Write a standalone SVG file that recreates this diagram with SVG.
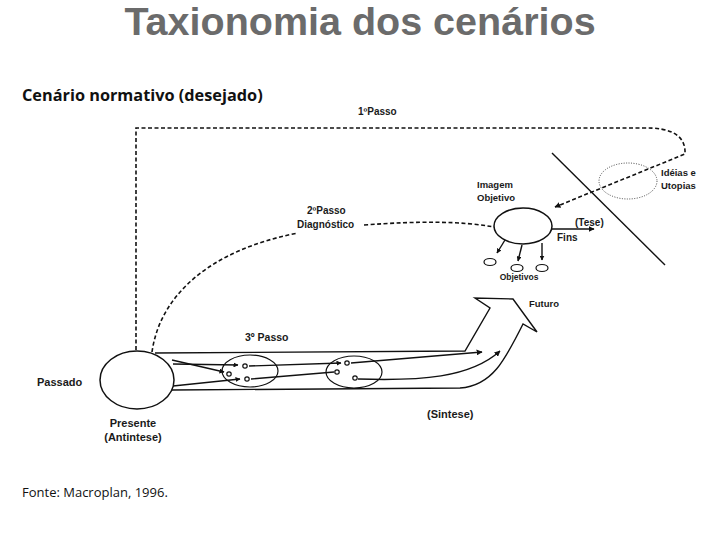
<svg xmlns="http://www.w3.org/2000/svg" width="720" height="540" viewBox="0 0 720 540">
<defs>
<marker id="ah" viewBox="0 0 10 10" refX="9" refY="5" markerWidth="6" markerHeight="6" orient="auto" markerUnits="userSpaceOnUse"><path d="M0,0 L10,5 L0,10 z" fill="#111"/></marker>
<marker id="ahs" viewBox="0 0 10 10" refX="9" refY="5" markerWidth="5" markerHeight="5" orient="auto" markerUnits="userSpaceOnUse"><path d="M0,0 L10,5 L0,10 z" fill="#111"/></marker>
</defs>
<style>
.t{font-family:"Liberation Sans",Arial,sans-serif;fill:#1a1a1a;font-weight:bold}
.ln{fill:none;stroke:#111;stroke-width:1.4}
.dash{fill:none;stroke:#111;stroke-width:1.6;stroke-dasharray:4 2.5}
.node{fill:#fff;stroke:#111;stroke-width:1.5}
.sc{fill:#fff;stroke:#111;stroke-width:1.2}
</style>
<rect width="720" height="540" fill="#fff"/>
<text x="360" y="35" text-anchor="middle" font-family="Liberation Sans, Arial, sans-serif" font-weight="bold" font-size="39.5" fill="#6b6b6b">Taxionomia dos cenários</text>
<text x="22" y="101" font-family="Open Sans, Liberation Sans, sans-serif" font-weight="bold" font-size="16.3" fill="#111">Cenário normativo (desejado)</text>

<g id="connectors">
<!-- 1º passo -->
<path class="dash" d="M136,350 V128 H642 C672,127 686,136 685,154 L555,207" marker-end="url(#ah)"/>
<!-- 2º passo -->
<path class="dash" d="M152,352 C160,295 210,250 298,233"/>
<path class="dash" d="M364,225 C420,221 460,221 494,227"/>
<!-- Fins -->
<path class="ln" d="M532,229 H594" marker-end="url(#ah)"/>
<!-- objetivos -->
<path class="ln" d="M505,240 L497,253" marker-end="url(#ahs)"/>
<path class="ln" d="M522,245 L518,261" marker-end="url(#ahs)"/>
<path class="ln" d="M542,243 V260" marker-end="url(#ahs)"/>
<!-- utopia line -->
<path class="ln" d="M552,153 L665,265" stroke-width="1.7"/>
<!-- big arrow channel -->
<path class="ln" stroke-width="1.5" d="M155,353 L465,351 L490,308 L475,298 L513,299 L537,332 L523,324 C505,360 492,386 460,388 L172,390"/>
<!-- inner lines -->
<path class="ln" d="M173,364 L238,365" marker-end="url(#ahs)"/>
<path class="ln" d="M249,366 L341,363" marker-end="url(#ahs)"/>
<path class="ln" d="M351,363 L482,352" marker-end="url(#ah)"/>
<path class="ln" d="M172,360 L224,372" marker-end="url(#ahs)"/>
<path class="ln" d="M173,386 L240,379" marker-end="url(#ahs)"/>
<path class="ln" d="M251,379 L334,372"/>
<path class="ln" d="M358,379 C420,381 470,378 500,351" marker-end="url(#ah)"/>
</g>

<g id="ideias">
<ellipse cx="628" cy="181" rx="29" ry="18" fill="none" stroke="#444" stroke-width="1" stroke-dasharray="1 1.5"/>
<text class="t" font-size="9.5"><tspan x="661" y="176">Idéias e</tspan><tspan x="661" y="189">Utopias</tspan></text>
</g>

<g id="imagem">
<ellipse class="node" cx="523" cy="226" rx="29" ry="18"/>
<text class="t" font-size="9.5"><tspan x="477" y="188">Imagem</tspan><tspan x="477" y="201">Objetivo</tspan></text>
<text class="t" font-size="10" x="575" y="226">(Tese)</text>
<text class="t" font-size="10" x="557" y="241">Fins</text>
</g>

<g id="objetivos">
<ellipse class="sc" cx="490" cy="262" rx="6" ry="3.5"/>
<ellipse class="sc" cx="517" cy="268" rx="6" ry="3.5"/>
<ellipse class="sc" cx="542" cy="268" rx="6" ry="3.5"/>
<text class="t" font-size="8.5" x="519" y="280" text-anchor="middle">Objetivos</text>
</g>

<g id="presente">
<ellipse class="node" cx="137" cy="380" rx="37" ry="29"/>
<text class="t" font-size="11" x="37" y="386">Passado</text>
<text class="t" font-size="11" x="133" y="427" text-anchor="middle">Presente</text>
<text class="t" font-size="11" x="133" y="441" text-anchor="middle">(Antintese)</text>
</g>

<g id="etapa1">
<ellipse cx="250" cy="371" rx="28" ry="16" fill="none" stroke="#111" stroke-width="1.2"/>
<circle class="sc" cx="229" cy="374" r="2.2"/>
<circle class="sc" cx="245" cy="366" r="2.2"/>
<circle class="sc" cx="247" cy="379" r="2.2"/>
</g>

<g id="etapa2">
<ellipse cx="354" cy="372" rx="28" ry="16" fill="none" stroke="#111" stroke-width="1.2"/>
<circle class="sc" cx="347" cy="363" r="2.2"/>
<circle class="sc" cx="337" cy="372" r="2.2"/>
<circle class="sc" cx="355" cy="378" r="2.2"/>
</g>

<g id="labels">
<text class="t" font-size="10" x="358" y="115">1ºPasso</text>
<text class="t" font-size="10" x="307" y="214">2ºPasso</text>
<text class="t" font-size="10" x="297" y="228">Diagnóstico</text>
<text class="t" font-size="10.5" x="245" y="341">3º Passo</text>
<text class="t" font-size="9.5" x="529" y="307">Futuro</text>
<text class="t" font-size="11" x="427" y="418">(Sintese)</text>
</g>

<text x="22" y="497" font-family="Open Sans, Liberation Sans, sans-serif" font-size="13" fill="#111">Fonte: Macroplan, 1996.</text>
</svg>
